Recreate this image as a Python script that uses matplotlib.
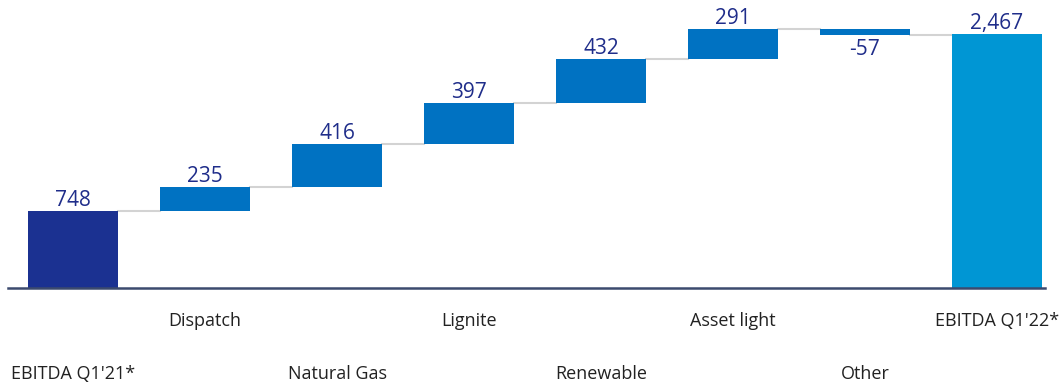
import matplotlib.pyplot as plt

categories = ["EBITDA Q1'21*", "Dispatch", "Natural Gas", "Lignite",
              "Renewable", "Asset light", "Other", "EBITDA Q1'22*"]
values = [748, 235, 416, 397, 432, 291, -57, 2467]
value_labels = ["748", "235", "416", "397", "432", "291", "-57", "2,467"]
kinds = ["total", "delta", "delta", "delta", "delta", "delta", "delta", "total"]

TEXT_BLUE = "#1f2d8a"
colors = {"start": "#1b3191", "delta": "#0072c2", "end": "#0096d4"}

plt.rcParams["font.family"] = ["Open Sans", "DejaVu Sans"]

fig = plt.figure(figsize=(10.62, 3.84), dpi=100)
ax = fig.add_axes([0, 0.25, 1, 0.75])
ax.set_xlim(-73 / 132, (1062 - 73) / 132)
ax.set_ylim(0, 2799)
ax.axis("off")

width = 0.68
running = 0
tops = []
for i, (v, kind) in enumerate(zip(values, kinds)):
    if kind == "total":
        bottom, height = 0, v
        color = colors["start"] if i == 0 else colors["end"]
        running = v
    else:
        bottom = running if v >= 0 else running + v
        height = abs(v)
        color = colors["delta"]
        running += v
    ax.bar(i, height, bottom=bottom, width=width, color=color, zorder=3)
    tops.append(running)
    if v >= 0:
        ax.annotate(value_labels[i], (i, bottom + height), xytext=(0, 0),
                    textcoords="offset points", ha="center", va="bottom",
                    fontsize=15, color=TEXT_BLUE)
    else:
        ax.annotate(value_labels[i], (i, bottom), xytext=(0, -3),
                    textcoords="offset points", ha="center", va="top",
                    fontsize=15, color=TEXT_BLUE)

# connectors between bars
for i in range(len(values) - 1):
    ax.plot([i + width / 2, i + 1 - width / 2], [tops[i], tops[i]],
            color="#d3d3d3", lw=1.5, zorder=2)

# baseline
ax.plot([-65 / 132, (1045 - 73) / 132], [0, 0], color="#3c4a6e", lw=1.8,
        zorder=4, clip_on=False)

# category labels in two staggered rows
trans = ax.get_xaxis_transform()
for i, name in enumerate(categories):
    y = -0.115 if i % 2 else -0.298
    ax.text(i, y, name, transform=trans, ha="center", va="center",
            fontsize=13, color="#222222")

fig.savefig("out.png", dpi=100)
